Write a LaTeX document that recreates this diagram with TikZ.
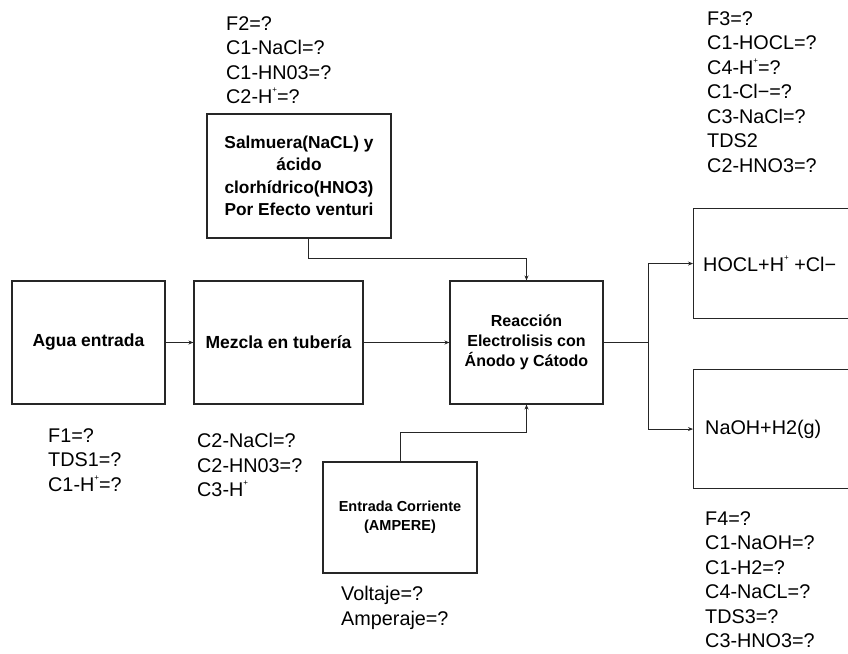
\documentclass[tikz,border=0pt]{standalone}
\usepackage{fontspec}
\setmainfont{Liberation Sans}
\usetikzlibrary{arrows.meta}
\newcommand\supplus{\raisebox{0.55em}{\fontsize{8}{8}\selectfont +}}
\tikzset{
  box/.style={draw=black!85, line width=1.1pt, inner sep=0pt, align=center, font=\bfseries},
  conn/.style={draw=black!85, line width=1pt},
  arr/.style={conn, -{Stealth[length=5pt,width=4pt]}},
  lbl/.style={inner sep=0pt, anchor=north west, align=left, font=\fontsize{19.8}{24.5}\selectfont},
}
\begin{document}
\begin{tikzpicture}[x=1pt,y=-1pt]
\useasboundingbox (0,0) rectangle (848,653);
\clip (0,0) rectangle (848,653);
% boxes
\node[box, minimum width=153, minimum height=123, font=\bfseries\fontsize{17.5}{21}\selectfont] (agua) at (88.5,342.5) {Agua entrada};
\node[box, minimum width=169, minimum height=123, font=\bfseries\fontsize{17.5}{21}\selectfont] (mezcla) at (278.5,342.5) {Mezcla en tubería};
\node[box, minimum width=153, minimum height=123, font=\bfseries\fontsize{16}{20}\selectfont] (reac) at (526.5,342.5) {Reacción\\Electrolisis con\\Ánodo y Cátodo};
\node[box, minimum width=184, minimum height=124, font=\bfseries\fontsize{17.3}{22.5}\selectfont] (salm) at (299,176) {Salmuera(NaCL) y\\ácido\\clorhídrico(HNO3)\\Por Efecto venturi};
\node[box, minimum width=154, minimum height=111, font=\bfseries\fontsize{14.5}{19}\selectfont] (corr) at (400,517.5) {Entrada Corriente\\(AMPERE)};
\node[box, anchor=north west, minimum width=170, minimum height=110] (hocl) at (693,208) {};
\node[box, anchor=north west, minimum width=170, minimum height=119] (naoh) at (693,369) {};
\node[inner sep=0pt, anchor=west, font=\fontsize{19.8}{23}\selectfont] (hocltxt) at ([xshift=10pt]hocl.west) {HOCL+H\supplus{} +Cl−};
\node[inner sep=0pt, anchor=west, font=\fontsize{19.8}{23}\selectfont] (naohtxt) at ([xshift=12pt]naoh.west) {NaOH+H2(g)};
% connectors
\draw[arr] (agua) -- (mezcla);
\draw[arr] (mezcla) -- (reac);
\draw[arr] ([xshift=9pt]salm.south) -- ++(0,20) -| (reac.north);
\draw[arr] (corr.north) -- ++(0,-29) -| (reac.south);
\draw[conn] (reac.east) -- ++(45,0) coordinate (sp);
\draw[arr] (sp) |- (hocl.west);
\draw[arr] (sp) |- (naoh.west);
% labels
\node[lbl] (l2) at (226,16) {F2=?\\C1-NaCl=?\\C1-HN03=?\\C2-H\supplus=?};
\node[lbl] (l3) at (707,11) {F3=?\\C1-HOCL=?\\C4-H\supplus=?\\C1-Cl−=?\\C3-NaCl=?\\TDS2\\C2-HNO3=?};
\node[lbl] (l4) at (705,511) {F4=?\\C1-NaOH=?\\C1-H2=?\\C4-NaCL=?\\TDS3=?\\C3-HNO3=?};
\node[lbl] (l1) at (48,428) {F1=?\\TDS1=?\\C1-H\supplus=?};
\node[lbl] (lc2) at (197,433) {C2-NaCl=?\\C2-HN03=?\\C3-H\supplus};
\node[lbl] (lv) at (341,586) {Voltaje=?\\Amperaje=?};
\end{tikzpicture}
\end{document}
